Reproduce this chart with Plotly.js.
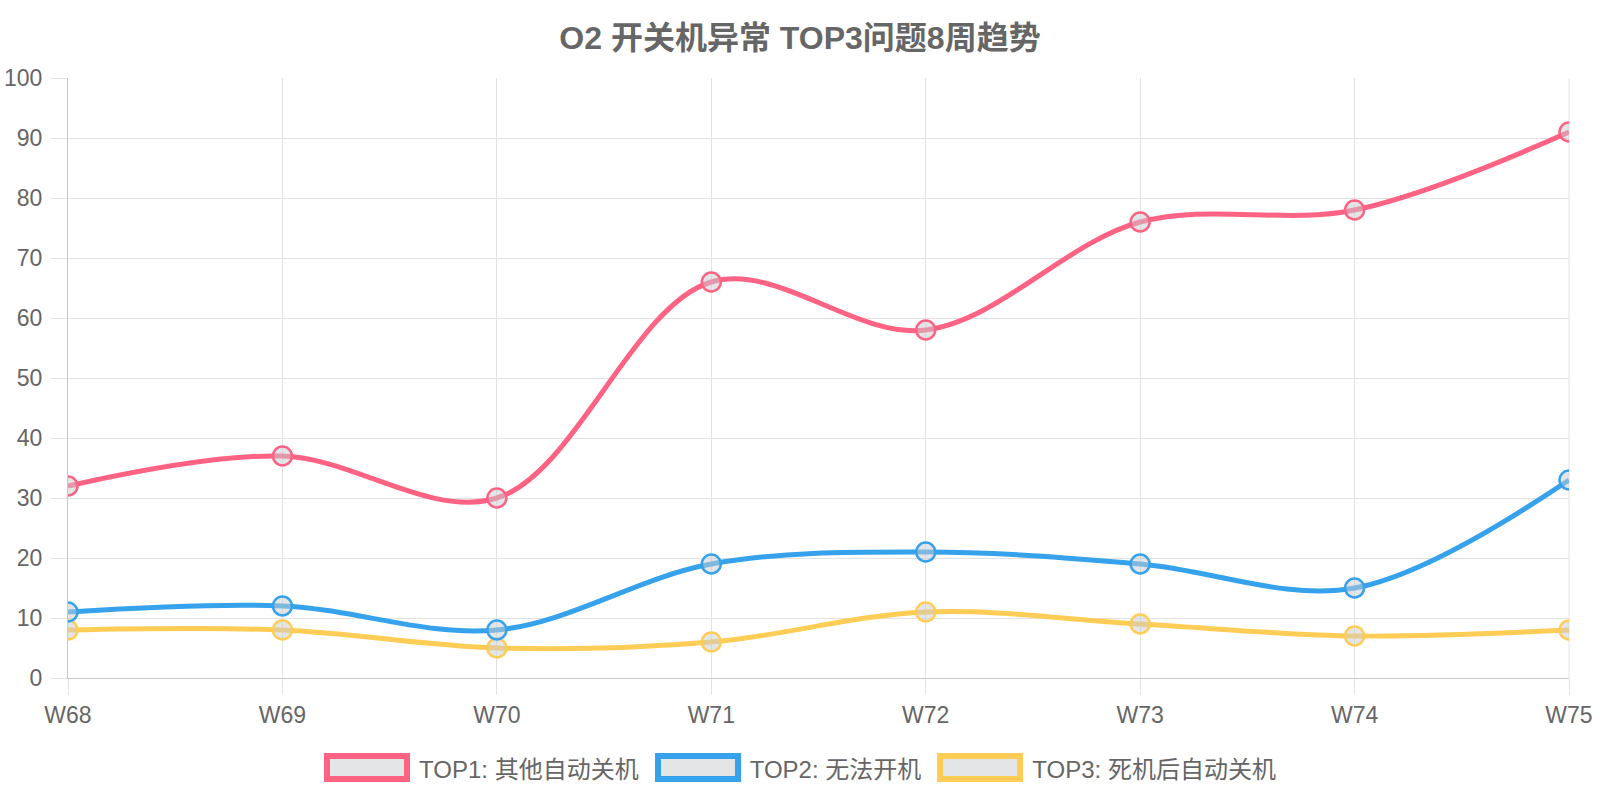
<!DOCTYPE html>
<html>
<head>
<meta charset="utf-8">
<script src="https://cdn.plot.ly/plotly-3.0.1.min.js"></script>
<style>
    html, body { margin: 0; padding: 0; background: #fff; }
    #wrap { position: relative; width: 1600px; height: 800px; }
    #chart { width: 1600px; height: 800px; }
    #legend {
        position: absolute; left: 0; top: 753px; width: 1600px; height: 29px;
        display: flex; justify-content: center; align-items: center;
        font-family: 'Liberation Sans', Arial, 'Noto Sans CJK SC', sans-serif;
        font-size: 24px; color: #666;
    }
    .leg-item { display: flex; align-items: center; margin: 0 8px; }
    .leg-box { width: 86px; height: 29px; box-sizing: border-box; border: 6px solid; background: #e4e5e7; margin-right: 9px; }
</style>
</head>
<body>
<div id="wrap">
    <div id="chart"></div>
    <div id="legend"></div>
</div>
<script>
const weeks = ['W68', 'W69', 'W70', 'W71', 'W72', 'W73', 'W74', 'W75'];
const top1 = [32, 37, 30, 66, 58, 76, 78, 91];
const top2 = [11, 12, 8, 19, 21, 19, 15, 33];
const top3 = [8, 8, 5, 6, 11, 9, 7, 8];
const seriesNames = ['TOP1: 其他自动关机', 'TOP2: 无法开机', 'TOP3: 死机后自动关机'];
const titleText = 'O2 开关机异常 TOP3问题8周趋势';

const COLORS = ['rgb(255,99,132)', 'rgb(54,162,235)', 'rgb(255,205,86)'];
const FONT = "'Liberation Sans', Arial, 'Noto Sans CJK SC', sans-serif";
const GRID = '#e2e2e2';
const AXIS = '#c8c8c8';

const series = [top1, top2, top3];

// chart.js draws the first dataset on top, so add them in reverse
const traces = series.map((vals, i) => ({
    x: weeks, y: vals, name: seriesNames[i], type: 'scatter', mode: 'lines+markers',
    line: { color: COLORS[i], width: 5, shape: 'spline', smoothing: 1 },
    marker: { size: 19, color: 'rgba(201,203,207,0.5)', line: { color: COLORS[i], width: 2.5 } },
    hoverinfo: 'x+y+name'
})).reverse();

const layout = {
    width: 1600, height: 800,
    paper_bgcolor: '#fff', plot_bgcolor: '#fff',
    font: { family: FONT, color: '#666', size: 23 },
    showlegend: false,
    margin: { l: 68, r: 31, t: 78, b: 122 },
    title: {
        text: '<b>' + titleText + '</b>',
        font: { size: 32, color: '#666', family: FONT },
        x: 0.5, xref: 'container', xanchor: 'center',
        y: 1 - 38 / 800, yref: 'container', yanchor: 'middle'
    },
    xaxis: {
        type: 'category', range: [0, weeks.length - 1], fixedrange: true,
        showgrid: true, gridcolor: GRID, gridwidth: 1,
        showline: true, linecolor: AXIS, linewidth: 1, mirror: false,
        ticks: 'outside', ticklen: 16, tickcolor: GRID,
        tickfont: { size: 23, color: '#666' }, ticklabelstandoff: 0,
        zeroline: false
    },
    yaxis: {
        range: [0, 100], dtick: 10, tick0: 0, fixedrange: true,
        showgrid: true, gridcolor: GRID, gridwidth: 1,
        showline: true, linecolor: AXIS, linewidth: 1,
        ticks: 'outside', ticklen: 16, tickcolor: GRID,
        tickfont: { size: 23, color: '#666' }, ticklabelstandoff: 4,
        zeroline: false
    },
    shapes: [
        // right edge of the chart area is just a grid line in the reference
        { type: 'line', xref: 'paper', yref: 'paper', x0: 1, x1: 1, y0: 0, y1: 1, line: { color: GRID, width: 1 }, layer: 'below' }
    ]
};

Plotly.newPlot('chart', traces, layout, { displayModeBar: false });

// legend drawn like the chart.js box legend
document.getElementById('legend').innerHTML = seriesNames.map((n, i) => `
    <div class="leg-item">
        <span class="leg-box" style="border-color:${COLORS[i]}"></span><span>${n}</span>
    </div>`).join('');
</script>
</body>
</html>
